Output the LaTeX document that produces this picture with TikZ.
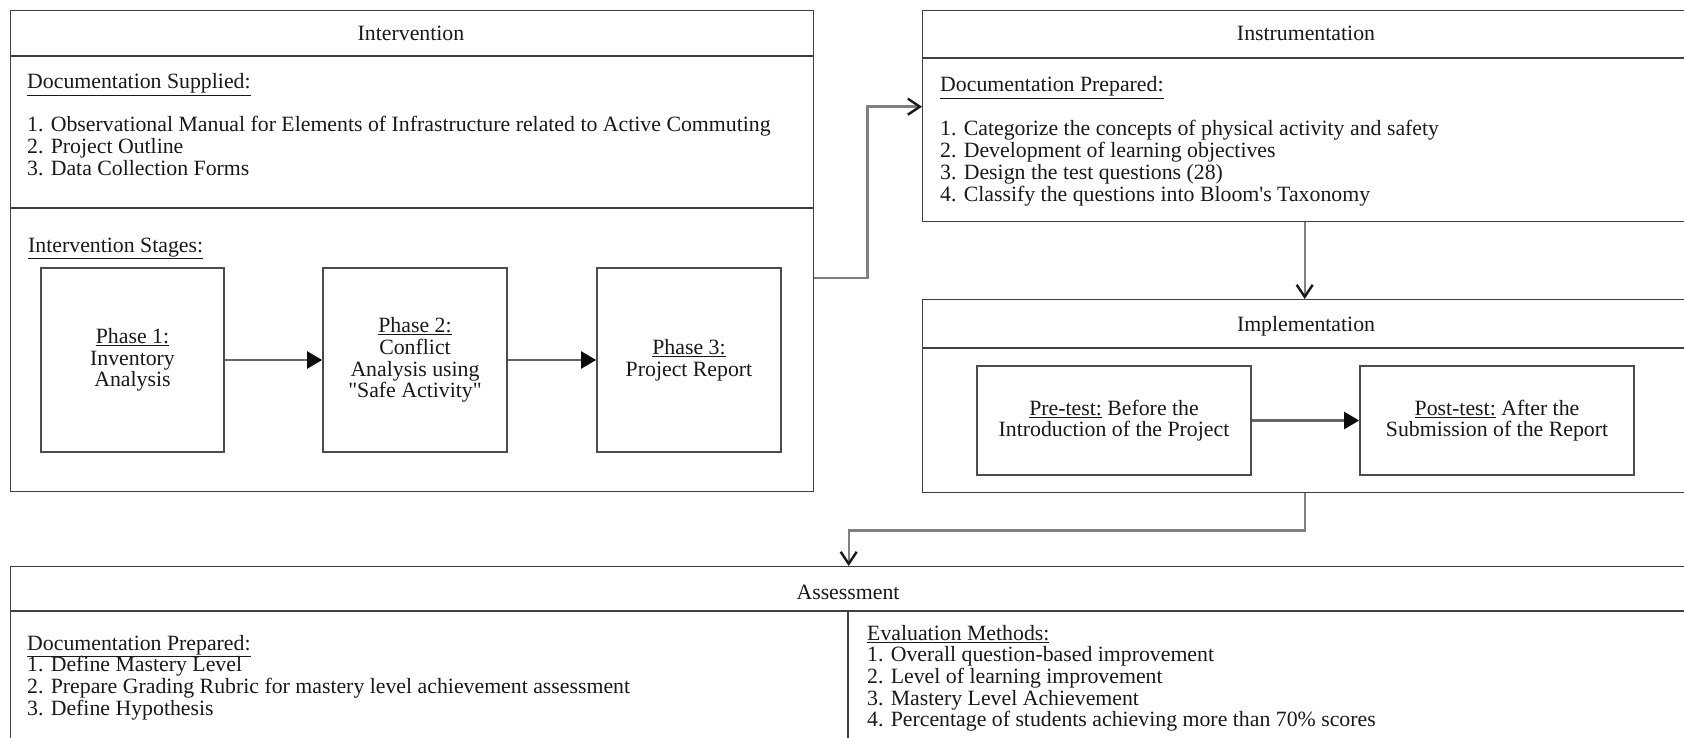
\documentclass[tikz,border=0pt]{standalone}
\usepackage{fontspec}
\setmainfont{Liberation Serif}[Ligatures=TeXOff]
\usetikzlibrary{arrows.meta}
\begin{document}
\begin{tikzpicture}[x=1pt,y=-1pt,
  every node/.style={font=\fontsize{21.8}{21.7}\selectfont, text=black!90, inner sep=0pt},
  frame/.style={draw=black!75, line width=1.4pt},
  rule/.style={draw=black!75, line width=1.4pt},
  txt/.style={anchor=base west},
  ttl/.style={anchor=base},
  stagebox/.style={draw=black!70, line width=1.7pt, align=center},
  conn/.style={draw=black!50, line width=2.4pt,
    -{Straight Barb[length=12pt,width=16pt,line width=2.4pt,color=black!90]}},
  flow/.style={draw=black!60, line width=2.4pt,
    -{Triangle[length=15pt,width=17pt,color=black!95]}}
]
\useasboundingbox (0,0) rectangle (1684,738);

% ---------- Intervention ----------
\node[frame, minimum width=803pt, minimum height=481pt, anchor=north west] (interv) at (10,10) {};
\draw[rule] (interv.west |- 0,56) -- (interv.east |- 0,56);
\draw[rule] (interv.west |- 0,208) -- (interv.east |- 0,208);
\node[ttl] (tInterv) at (411,41) {Intervention};
\node[txt] (dsH) at (27,89) {\underline{Documentation Supplied:}};
\node[txt] (ds1) at (27,132) {1. Observational Manual for Elements of Infrastructure related to Active Commuting};
\node[txt] (ds2) at (27,153.7) {2. Project Outline};
\node[txt] (ds3) at (27,175.4) {3. Data Collection Forms};
\node[txt] (isH) at (28,252) {\underline{Intervention Stages:}};

\node[stagebox, minimum width=183pt, minimum height=184pt] (p1) at (132.5,360)
  {\underline{Phase 1:}\\Inventory\\Analysis};
\node[stagebox, minimum width=184pt, minimum height=184pt] (p2) at (415,360)
  {\underline{Phase 2:}\\Conflict\\Analysis using\\"Safe Activity"};
\node[stagebox, minimum width=184pt, minimum height=184pt] (p3) at (689,360)
  {\underline{Phase 3:}\\Project Report};
\draw[flow] (p1.east) -- (p2.west);
\draw[flow] (p2.east) -- (p3.west);

% ---------- Instrumentation ----------
\node[frame, minimum width=768pt, minimum height=211pt, anchor=north west] (instr) at (922,10) {};
\draw[rule] (instr.west |- 0,58) -- (instr.east |- 0,58);
\node[ttl] (tInstr) at (1306,41) {Instrumentation};
\node[txt] (dpH) at (940,92) {\underline{Documentation Prepared:}};
\node[txt] (dp1) at (940,136) {1. Categorize the concepts of physical activity and safety};
\node[txt] (dp2) at (940,157.7) {2. Development of learning objectives};
\node[txt] (dp3) at (940,179.4) {3. Design the test questions (28)};
\node[txt] (dp4) at (940,201.1) {4. Classify the questions into Bloom's Taxonomy};

% ---------- Implementation ----------
\node[frame, minimum width=768pt, minimum height=193pt, anchor=north west] (impl) at (922,299) {};
\draw[rule] (impl.west |- 0,348) -- (impl.east |- 0,348);
\node[ttl] (tImpl) at (1306,331) {Implementation};
\node[stagebox, minimum width=274pt, minimum height=109pt] (pre) at (1114,420.5)
  {\underline{Pre-test:} Before the\\Introduction of the Project};
\node[stagebox, minimum width=274pt, minimum height=109pt] (post) at (1497,420.5)
  {\underline{Post-test:} After the\\Submission of the Report};
\draw[flow] (pre.east) -- (post.west);

% ---------- Assessment ----------
\node[frame, minimum width=1676pt, minimum height=200pt, anchor=north west] (assess) at (10,566) {};
\draw[rule] (assess.west |- 0,611) -- (assess.east |- 0,611);
\draw[rule] (848,611) -- (assess.south -| 848,0);
\node[ttl] (tAssess) at (848,599) {Assessment};
\node[txt] (apH) at (27,650) {\underline{Documentation Prepared:}};
\node[txt] (ap1) at (27,671.7) {1. Define Mastery Level};
\node[txt] (ap2) at (27,693.4) {2. Prepare Grading Rubric for mastery level achievement assessment};
\node[txt] (ap3) at (27,715.1) {3. Define Hypothesis};
\node[txt] (emH) at (867,640) {\underline{Evaluation Methods:}};
\node[txt] (em1) at (867,661.7) {1. Overall question-based improvement};
\node[txt] (em2) at (867,683.4) {2. Level of learning improvement};
\node[txt] (em3) at (867,705.1) {3. Mastery Level Achievement};
\node[txt] (em4) at (867,726.8) {4. Percentage of students achieving more than 70\% scores};

% ---------- Connectors ----------
\draw[conn] ([yshift=-26.5pt]interv.east) -- ++(53,0) |- ([yshift=9.5pt]instr.west);
\draw[conn] ([xshift=-2pt]instr.south) -- ([xshift=-2pt]impl.north);
\draw[conn] ([xshift=-2pt]impl.south) -- ++(0,37) -| (assess.north);
\end{tikzpicture}
\end{document}
